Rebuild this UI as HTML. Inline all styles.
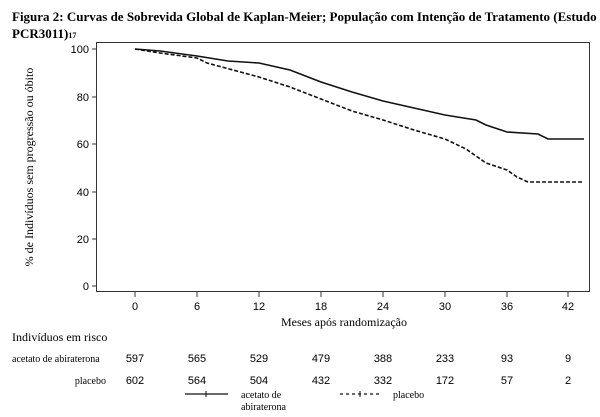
<!DOCTYPE html>
<html><head><meta charset="utf-8"><style>
body{margin:0;background:#fff;width:600px;height:417px;overflow:hidden}
svg{display:block}
.s{font-family:"Liberation Serif",serif}
.a{font-family:"Liberation Sans",sans-serif;font-size:11px}
</style></head><body>
<svg width="600" height="417" viewBox="0 0 600 417">
<text x="12" y="21" class="s" font-size="13" font-weight="bold">Figura 2: Curvas de Sobrevida Global de Kaplan-Meier; População com Intenção de Tratamento (Estudo</text>
<text x="12" y="38" class="s" font-size="13" font-weight="bold">PCR3011)<tspan font-size="8">17</tspan></text>
<rect x="96.5" y="42.5" width="493" height="249" fill="none" stroke="#333" stroke-width="1"/>
<g stroke="#333">
<line x1="92" y1="49" x2="96" y2="49"/><line x1="92" y1="97" x2="96" y2="97"/><line x1="92" y1="144" x2="96" y2="144"/><line x1="92" y1="192" x2="96" y2="192"/><line x1="92" y1="239" x2="96" y2="239"/><line x1="92" y1="286" x2="96" y2="286"/>
<line x1="135" y1="292" x2="135" y2="297"/><line x1="197" y1="292" x2="197" y2="297"/><line x1="259" y1="292" x2="259" y2="297"/><line x1="321" y1="292" x2="321" y2="297"/><line x1="383" y1="292" x2="383" y2="297"/><line x1="445" y1="292" x2="445" y2="297"/><line x1="507" y1="292" x2="507" y2="297"/><line x1="568" y1="292" x2="568" y2="297"/>
</g>
<g class="a" text-anchor="end">
<text x="89" y="53">100</text><text x="89" y="101">80</text><text x="89" y="148">60</text><text x="89" y="196">40</text><text x="89" y="243">20</text><text x="89" y="290">0</text>
</g>
<g class="a" text-anchor="middle">
<text x="135" y="310">0</text><text x="197" y="310">6</text><text x="259" y="310">12</text><text x="321" y="310">18</text><text x="383" y="310">24</text><text x="445" y="310">30</text><text x="507" y="310">36</text><text x="568" y="310">42</text>
</g>
<text x="344" y="326" class="s" font-size="12" text-anchor="middle">Meses após randomização</text>
<text transform="translate(33,167) rotate(-90)" class="s" font-size="12" text-anchor="middle">% de Indivíduos sem progressão ou óbito</text>
<polyline fill="none" stroke="#111" stroke-width="1.6" points="135,49 160,51 197,56 228,61 259,63 290,70 321,82 352,92 383,101 414,108 445,115 476,120 486,125 507,132 538,134 548,139 584,139"/>
<polyline fill="none" stroke="#111" stroke-width="1.6" stroke-dasharray="4,2" points="135,49 160,53 197,58 207,63 259,77 290,87 321,99 352,111 383,120 414,130 445,139 466,149 476,156 486,163 507,170 517,177 528,182 584,182"/>
<text x="12" y="341" class="s" font-size="12">Indivíduos em risco</text>
<text x="12" y="362" class="s" font-size="10">acetato de abiraterona</text>
<text x="106" y="384" class="s" font-size="10" text-anchor="end">placebo</text>
<g class="a" text-anchor="middle">
<text x="135" y="362">597</text><text x="197" y="362">565</text><text x="259" y="362">529</text><text x="321" y="362">479</text><text x="383" y="362">388</text><text x="445" y="362">233</text><text x="507" y="362">93</text><text x="568" y="362">9</text>
<text x="135" y="384">602</text><text x="197" y="384">564</text><text x="259" y="384">504</text><text x="321" y="384">432</text><text x="383" y="384">332</text><text x="445" y="384">172</text><text x="507" y="384">57</text><text x="568" y="384">2</text>
</g>
<line x1="185" y1="394" x2="228" y2="394" stroke="#111" stroke-width="1.3"/>
<line x1="206" y1="391" x2="206" y2="397" stroke="#111"/>
<text x="241" y="398" class="s" font-size="10">acetato de</text>
<text x="241" y="410" class="s" font-size="10">abiraterona</text>
<line x1="340" y1="394" x2="380" y2="394" stroke="#111" stroke-width="1.3" stroke-dasharray="3,3"/>
<line x1="360" y1="391" x2="360" y2="397" stroke="#111"/>
<text x="393" y="398" class="s" font-size="10">placebo</text>
</svg>
</body></html>
